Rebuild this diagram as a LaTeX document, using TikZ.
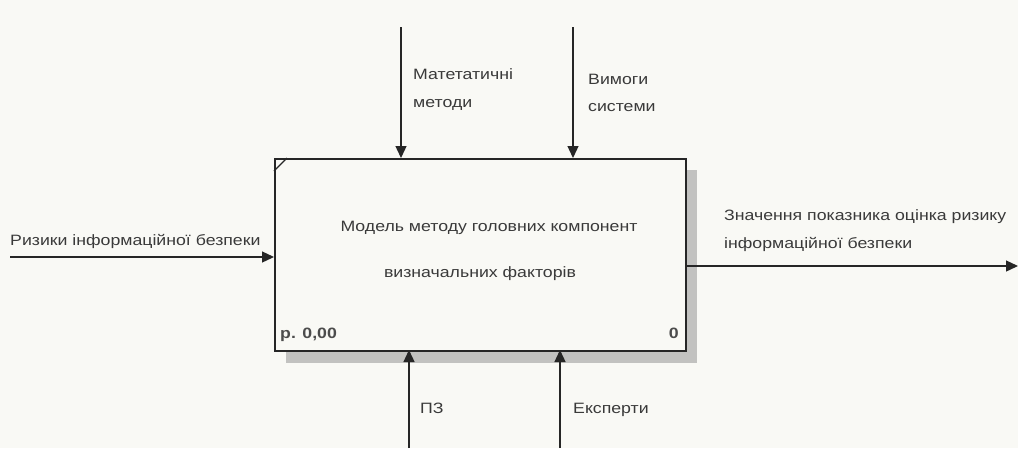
\documentclass[tikz,border=0pt]{standalone}
\usepackage{graphicx}
\usepackage{fontspec}
\setmainfont{Liberation Sans}
\usetikzlibrary{arrows.meta}
\definecolor{bg}{HTML}{F9F9F5}
\definecolor{shadowc}{HTML}{C2C2C0}
\definecolor{txt}{HTML}{3A3A3A}
\newcommand\sx[1]{\scalebox{1.18}[1]{#1}}
\tikzset{
  flow/.style={line width=1.3pt, draw=black!85, -{Triangle[length=12pt,width=11pt]}},
  lbl/.style={font=\fontsize{15}{17}\selectfont, text=txt, inner sep=0pt, anchor=base west},
  boxlbl/.style={font=\fontsize{15}{17}\selectfont, text=txt, inner sep=0pt, anchor=base}
}
\begin{document}
\begin{tikzpicture}[x=1pt,y=-1pt]
\fill[bg] (0,0) rectangle (1018,448);
\useasboundingbox (0,0) rectangle (1018,448);
% shadow
\fill[shadowc] (286,170) rectangle (697,363);
% box
\node[draw=black!85, line width=2.4pt, fill=bg, minimum width=411pt, minimum height=192pt, inner sep=0pt, anchor=north west] (box) at (274,158) {};
\draw[line width=1.2pt, black!85] ([yshift=-13pt]box.north west) -- ([xshift=13pt]box.north west);
\node[boxlbl] (t1) at (489,231) {\sx{Модель методу головних компонент}};
\node[boxlbl] (t2) at (480,277) {\sx{визначальних факторів}};
\node[lbl, font=\fontsize{15}{17}\selectfont\bfseries, text=black!70] (pn) at (280,338) {\sx{р. 0,00}};
\node[lbl, anchor=base east, font=\fontsize{15}{17}\selectfont\bfseries, text=black!70] (nr) at (679,338) {\sx{0}};
% coordinates
\coordinate (c1s) at (401,27);
\coordinate (c1e) at (401,158);
\coordinate (c2s) at (573,27);
\coordinate (c2e) at (573,158);
\coordinate (m1s) at (409,448);
\coordinate (m1e) at (409,350);
\coordinate (m2s) at (560,448);
\coordinate (m2e) at (560,350);
\coordinate (is) at (10,257);
\coordinate (ie) at (274,257);
\coordinate (os) at (685,266);
\coordinate (oe) at (1018,266);
\draw[flow] (c1s) -- (c1e);
\draw[flow] (c2s) -- (c2e);
\draw[flow] (m1s) -- (m1e);
\draw[flow] (m2s) -- (m2e);
\draw[flow] (is) -- (ie);
\draw[flow] (os) -- (oe);
% labels
\node[lbl] (lc1a) at (413,79) {\sx{Матетатичні}};
\node[lbl] (lc1b) at (413,107) {\sx{методи}};
\node[lbl] (lc2a) at (588,84) {\sx{Вимоги}};
\node[lbl] (lc2b) at (588,111) {\sx{системи}};
\node[lbl] (li) at (10,245) {\sx{Ризики інформаційної безпеки}};
\node[lbl] (loa) at (724,220) {\sx{Значення показника оцінка ризику}};
\node[lbl] (lob) at (724,248) {\sx{інформаційної безпеки}};
\node[lbl] (lm1) at (420,413) {\sx{ПЗ}};
\node[lbl] (lm2) at (573,413) {\sx{Експерти}};
\end{tikzpicture}
\end{document}
